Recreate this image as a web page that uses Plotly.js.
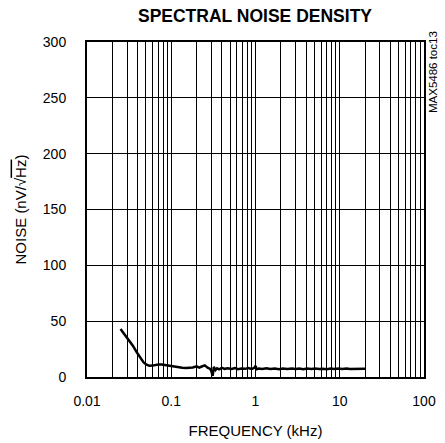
<!DOCTYPE html>
<html><head><meta charset="utf-8">
<script src="https://cdn.plot.ly/plotly-3.0.1.min.js"></script>
<style>html,body{margin:0;padding:0;background:#fff}</style>
</head><body>
<div id="chart" style="width:445px;height:443px"></div>
<script>
var freqKHz = [0.025,0.028,0.031,0.035,0.039,0.043,0.047,0.051,0.055,0.06,0.065,0.07,0.077,0.085,0.095,0.105,0.12,0.135,0.15,0.165,0.18,0.2,0.215,0.23,0.25,0.27,0.29,0.3,0.31,0.32,0.335,0.35,0.37,0.4,0.43,0.47,0.52,0.57,0.62,0.68,0.75,0.82,0.9,0.97,1.0,1.03,1.1,1.2,1.35,1.5,1.7,1.9,2.1,2.4,2.7,3.0,3.3,3.7,4.1,4.6,5.1,5.7,6.3,7.0,7.8,8.7,9.6,10.7,12,13.3,14.8,16.5,18,20];
var noise = [43,38,33,28,22,17,13,11,10,10.2,10.8,11.2,11.2,10.6,9.8,9.3,8.6,8.2,8.0,8.3,8.6,9.6,8.4,9.4,10.4,8.3,7.2,5.0,1.0,9.0,6.2,7.8,6.8,8.2,7.3,7.8,7.2,8.0,7.0,7.6,7.3,8.0,7.2,8.2,10.0,7.0,7.6,7.2,7.8,7.1,7.5,7.0,7.6,7.2,7.7,7.1,7.5,7.0,7.6,7.2,7.7,7.1,7.4,7.0,7.6,7.2,7.5,7.1,7.6,7.2,7.4,7.0,7.5,7.3];
var decadeTicks = [0.01,0.1,1,10,100];
var decadeLabels = ["0.01","0.1","1","10","100"];
var yTicks = [0,50,100,150,200,250,300];
var yLabels = ["0","50","100","150","200","250","300"];

var gridVals = [], gridText = [];
decadeTicks.forEach(function(d, i){
  if (i === decadeTicks.length - 1) { gridVals.push(d); gridText.push(decadeLabels[i]); return; }
  for (var m = 1; m <= 9; m++) {
    gridVals.push(d * m);
    gridText.push(m === 1 ? decadeLabels[i] : "");
  }
});

var trace = {x: freqKHz, y: noise, type: 'scatter', mode: 'lines',
  line: {color: '#000', width: 2.5}, hoverinfo: 'skip'};

var fam = 'Liberation Sans, Arial, sans-serif';
var tickFont = {family: fam, color: '#000', size: 14};
var titleFont = {family: fam, color: '#000', size: 15};
var layout = {
  width: 445, height: 443,
  margin: {l: 87, r: 21, t: 42, b: 66},
  paper_bgcolor: '#fff', plot_bgcolor: '#fff',
  showlegend: false,
  font: tickFont,
  title: {text: '<b>SPECTRAL NOISE DENSITY</b>', font: {family: fam, size: 17.5, color: '#000'},
    x: 0.573, xanchor: 'center', y: 0.964, yanchor: 'middle'},
  xaxis: {type: 'log', range: [-2, 2], tickmode: 'array', tickvals: gridVals, ticktext: gridText,
    showgrid: true, gridcolor: '#000', gridwidth: 1, ticks: '', tickfont: tickFont, ticklabelstandoff: 10,
    showline: true, linecolor: '#000', linewidth: 2, mirror: true, zeroline: false,
    title: {text: 'FREQUENCY (kHz)', font: titleFont, standoff: 18}},
  yaxis: {range: [0, 300], tickmode: 'array', tickvals: yTicks, ticktext: yLabels,
    showgrid: true, gridcolor: '#000', gridwidth: 1, ticks: '', tickfont: tickFont, ticklabelstandoff: 16,
    showline: true, linecolor: '#000', linewidth: 2, mirror: true, zeroline: false,
    title: {text: 'NOISE (nV/√<span style="text-decoration:overline">Hz</span>)', font: titleFont, standoff: 13}},
  annotations: [{text: 'MAX5486 toc13', xref: 'paper', yref: 'paper', x: 1.025, y: 1.04,
    xanchor: 'center', yanchor: 'top', textangle: -90, showarrow: false,
    font: {family: fam, size: 11.5, color: '#000'}}]
};
Plotly.newPlot('chart', [trace], layout, {displayModeBar: false, staticPlot: true});
</script>
</body></html>
